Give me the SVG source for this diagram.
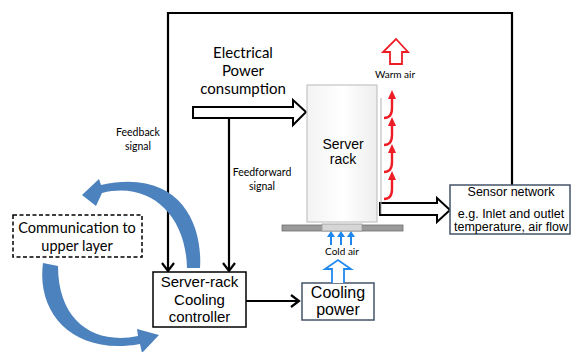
<svg xmlns="http://www.w3.org/2000/svg" width="571" height="352" viewBox="0 0 571 352">
<style>
.line{fill:none;stroke:#000;stroke-width:2.2}
.blk{fill:#fff;stroke:#000;stroke-width:2}
.cal{font-family:Lato,"Open Sans",sans-serif;fill:#000}
.ari{font-family:"Liberation Sans",Arial,sans-serif;fill:#000}
.blue{fill:#4c82bd}
.red{fill:none;stroke:#ee1c25;stroke-width:2.4}
</style>
<defs>
<linearGradient id="rackg" x1="0" y1="0" x2="1" y2="0">
<stop offset="0" stop-color="#f3f3f3"/><stop offset="0.5" stop-color="#ffffff"/><stop offset="1" stop-color="#eeeeee"/>
</linearGradient>
</defs>
<rect width="571" height="352" fill="#fff"/>

<g id="connectors">
<polyline class="line" points="168,270 168,13 512,13 512,185"/>
<path d="M162 263 L168 271 L174 263" fill="none" stroke="#000" stroke-width="2.2"/>
<line x1="229" y1="118" x2="229" y2="270" stroke="#000" stroke-width="2.2"/>
<path d="M223 263 L229 271 L235 263" fill="none" stroke="#000" stroke-width="2.2"/>
<line x1="246" y1="301" x2="298" y2="301" stroke="#000" stroke-width="2.2"/>
<path d="M291 295 L299 301 L291 307" fill="none" stroke="#000" stroke-width="2.2"/>
<path class="blk" d="M193 107 H293 V100 L306 112 L293 125 V118 H193 Z"/>
<path class="blk" d="M380 203 H437 V198 L450 210 L437 222 V215 H380 Z"/>
<path class="blue" d="M200 268 C203 222 178 168 101 185 L99 179 L82 195 L96 206 L102 193 C150 181 186 215 187 268 Z"/>
<path class="blue" d="M43 263 C36 315 75 356 140 344 L142 353 L159 335 L137 329 L138 336 C95 345 58 322 58 266 Z"/>
</g>

<g id="comm">
<rect x="13" y="215" width="129" height="42" fill="#fff" stroke="#000" stroke-width="1.5" stroke-dasharray="4,2.5"/>
<text class="cal" x="77" y="233" font-size="14.5" text-anchor="middle">Communication to</text>
<text class="cal" x="77" y="251" font-size="14.5" text-anchor="middle">upper layer</text>
</g>

<g id="controller">
<rect x="153" y="272" width="93" height="55" fill="#fff" stroke="#000" stroke-width="1.5"/>
<text class="ari" x="199.5" y="287" font-size="15" text-anchor="middle">Server-rack</text>
<text class="ari" x="199.5" y="305" font-size="15" text-anchor="middle">Cooling</text>
<text class="ari" x="199.5" y="322" font-size="15" text-anchor="middle">controller</text>
</g>

<g id="cooling">
<rect x="302" y="283" width="72" height="37" fill="#fff" stroke="#44546a" stroke-width="1.5"/>
<text class="ari" x="338" y="298" font-size="16" text-anchor="middle">Cooling</text>
<text class="ari" x="338" y="315" font-size="16" text-anchor="middle">power</text>
<path d="M332 283 V269 H325 L338 260 L351 269 H344 V283" fill="#fff" stroke="#1e88ee" stroke-width="1.8"/>
</g>

<g id="cold-air">
<g fill="#1e88ee" stroke="#1e88ee">
<line x1="331" y1="245" x2="331" y2="236" stroke-width="2"/><path d="M327 237 L331 231 L335 237 Z" stroke="none"/>
<line x1="341" y1="245" x2="341" y2="236" stroke-width="2"/><path d="M337 237 L341 231 L345 237 Z" stroke="none"/>
<line x1="351" y1="245" x2="351" y2="236" stroke-width="2"/><path d="M347 237 L351 231 L355 237 Z" stroke="none"/>
</g>
<text class="cal" x="342" y="255" font-size="10" text-anchor="middle">Cold air</text>
</g>

<g id="floor">
<rect x="282" y="225" width="121" height="6" fill="#9a9a9a" stroke="#6f6f6f" stroke-width="0.8"/>
<rect x="322" y="224" width="40" height="7" fill="#d6d6d6" stroke="#9a9a9a" stroke-width="0.8"/>
</g>

<g id="rack">
<rect x="307" y="85" width="70" height="137" fill="url(#rackg)" stroke="#c4c4c4" stroke-width="1.2"/>
<text class="ari" x="343" y="149" font-size="14" text-anchor="middle">Server</text>
<text class="ari" x="343" y="164" font-size="14" text-anchor="middle">rack</text>
<line x1="381" y1="98" x2="381" y2="214" stroke="#b0b0b0" stroke-width="1"/>
</g>

<g id="warm-air">
<g>
<path class="red" d="M384 118 Q392 118 392 108 V97"/><path d="M388 99 L392 90 L396 99 Z" fill="#ee1c25"/>
<path class="red" d="M384 145 Q392 145 392 135 V124"/><path d="M388 126 L392 117 L396 126 Z" fill="#ee1c25"/>
<path class="red" d="M384 172 Q392 172 392 162 V151"/><path d="M388 153 L392 144 L396 153 Z" fill="#ee1c25"/>
<path class="red" d="M384 199 Q392 199 392 189 V178"/><path d="M388 180 L392 171 L396 180 Z" fill="#ee1c25"/>
</g>
<path d="M390 64 V52 H383 L396 39 L408 52 H402 V64 Z" fill="#fff" stroke="#ee1c25" stroke-width="1.8"/>
<text class="cal" x="395" y="78" font-size="10" text-anchor="middle">Warm air</text>
</g>

<g id="sensor">
<rect x="450" y="185" width="120" height="49" fill="#fff" stroke="#44546a" stroke-width="1.5"/>
<text class="ari" x="511" y="196" font-size="12.5" text-anchor="middle">Sensor network</text>
<text class="ari" x="511" y="218" font-size="12.5" text-anchor="middle">e.g. Inlet and outlet</text>
<text class="ari" x="511" y="231" font-size="12.5" text-anchor="middle">temperature, air flow</text>
</g>

<g id="labels">
<text class="cal" x="243" y="58" font-size="15" text-anchor="middle">Electrical</text>
<text class="cal" x="243" y="76" font-size="15" text-anchor="middle">Power</text>
<text class="cal" x="243" y="94" font-size="15" text-anchor="middle">consumption</text>
<text class="cal" x="138" y="136" font-size="10.5" text-anchor="middle">Feedback</text>
<text class="cal" x="138" y="150" font-size="10.5" text-anchor="middle">signal</text>
<text class="cal" x="262" y="176" font-size="10.5" text-anchor="middle">Feedforward</text>
<text class="cal" x="262" y="190" font-size="10.5" text-anchor="middle">signal</text>
</g>
</svg>
